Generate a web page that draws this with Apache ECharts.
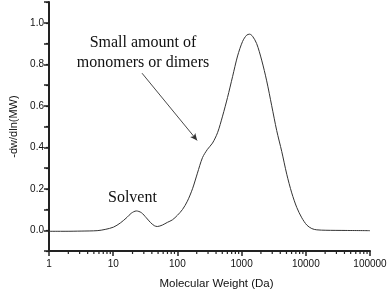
<!DOCTYPE html>
<html>
<head>
<meta charset="utf-8">
<script src="https://cdn.jsdelivr.net/npm/echarts@6/dist/echarts.min.js"></script>
<style>html,body{margin:0;padding:0;background:#fff}#c{width:391px;height:295px}</style>
</head>
<body>
<div id="c"></div>
<script>
// Molecular weight (Da) sample positions and -dw/dln(MW) values
const molecularWeight = [1, 1.78, 3.16, 5.62, 7.5, 10.1, 12.9, 16.4, 19.1, 22.9, 27.4, 32.8, 37.9, 43.7, 48.7, 58.3, 69.8, 83.5, 100, 120, 143, 172, 205, 246, 294, 352, 422, 505, 604, 723, 866, 1036, 1197, 1334, 1480, 1714, 2054, 2459, 2945, 3525, 4217, 5050, 6040, 7230, 8660, 10370, 12400, 14840, 20540, 42170, 100000];
const dwdlnMW = [-0.005, -0.005, -0.004, -0.002, 0.004, 0.015, 0.035, 0.062, 0.082, 0.093, 0.085, 0.06, 0.038, 0.022, 0.018, 0.025, 0.038, 0.05, 0.072, 0.1, 0.14, 0.2, 0.275, 0.35, 0.39, 0.42, 0.47, 0.55, 0.64, 0.74, 0.84, 0.91, 0.94, 0.945, 0.935, 0.9, 0.82, 0.72, 0.6, 0.48, 0.38, 0.27, 0.18, 0.11, 0.06, 0.025, 0.008, 0.002, 0.0, -0.001, -0.002];
const xMinorTicks = [2,3,4,5,6,7,8,9,20,30,40,50,60,70,80,90,200,300,400,500,600,700,800,900,2000,3000,4000,5000,6000,7000,8000,9000,20000,30000,40000,50000,60000,70000,80000,90000];
const yMajorLabels = ['0.0','0.2','0.4','0.6','0.8','1.0'];
const arrowFrom = [28.1, 0.757];
const arrowTo = [203, 0.433];
const yMin = -0.1, yMax = 1.1;

const chart = echarts.init(document.getElementById('c'), null, {renderer: 'canvas'});
const axisColor = '#222';
const lineData = molecularWeight.map((m, i) => [m, dwdlnMW[i]]);

const option = {
  animation: false,
  grid: {left: 48, right: 21, top: 2, bottom: 41},
  xAxis: {
    type: 'log', logBase: 10, min: 1, max: 100000,
    name: 'Molecular Weight (Da)', nameLocation: 'middle', nameGap: 27,
    nameTextStyle: {fontFamily: 'Liberation Sans', fontSize: 11.5, color: '#111', padding: [0, 0, 0, 14]},
    axisLine: {show: true, onZero: false, lineStyle: {color: axisColor, width: 2}},
    axisTick: {show: true, inside: false, length: 5, lineStyle: {color: axisColor, width: 1.5}},
    axisLabel: {fontFamily: 'Liberation Sans', fontSize: 10, color: '#111', margin: 8,
      formatter: v => String(Math.round(v))},
    splitLine: {show: false}
  },
  yAxis: [{
    type: 'value', min: yMin, max: yMax, interval: 0.1,
    name: '-dw/dln(MW)', nameLocation: 'middle', nameGap: 30, nameRotate: 90,
    nameTextStyle: {fontFamily: 'Liberation Sans', fontSize: 11, color: '#111'},
    axisLine: {show: true, lineStyle: {color: axisColor, width: 2}},
    axisTick: {show: true, length: 5, lineStyle: {color: axisColor, width: 1.5},
      interval: (i, v) => { const k = Math.round(Number(v) * 10); return k >= 0 && k % 2 === 0; }},
    axisLabel: {fontFamily: 'Liberation Sans', fontSize: 10, color: '#111', margin: 5,
      formatter: v => { const k = Math.round(v * 10); if (k < 0 || k % 2 !== 0) return ''; return yMajorLabels[k / 2] || ''; }},
    splitLine: {show: false}
  }, {
    type: 'value', min: yMin, max: yMax, interval: 0.1, position: 'left',
    axisLine: {show: false},
    axisTick: {show: true, length: 3, lineStyle: {color: axisColor, width: 1.2}},
    axisLabel: {show: false},
    splitLine: {show: false}
  }],
  series: [{
    type: 'line', data: lineData, smooth: 0.3, showSymbol: false, symbol: 'none',
    lineStyle: {color: '#333', width: 1},
    markLine: {
      silent: true, symbol: ['none', 'arrow'], symbolSize: [5, 7],
      label: {show: false},
      lineStyle: {color: '#333', width: 0.9, type: 'solid'},
      data: [[{coord: arrowFrom}, {coord: arrowTo}]]
    }
  }, {
    type: 'custom', clip: false, silent: true,
    data: xMinorTicks.map(v => [v, yMin]),
    renderItem: (params, api) => {
      const p = api.coord([api.value(0), yMin]);
      return {type: 'line', shape: {x1: p[0], y1: p[1], x2: p[0], y2: p[1] + 3},
        style: {stroke: axisColor, lineWidth: 1.2}};
    }
  }],
  graphic: [{
    type: 'text', x: 143, y: 33,
    style: {text: 'Small amount of\nmonomers or dimers', font: '16px "Liberation Serif"', fill: '#111',
      align: 'center', verticalAlign: 'top', lineHeight: 20}
  }, {
    type: 'text', x: 108, y: 190,
    style: {text: 'Solvent', font: '16px "Liberation Serif"', fill: '#111', verticalAlign: 'top'}
  }]
};
chart.setOption(option);
</script>
</body>
</html>
